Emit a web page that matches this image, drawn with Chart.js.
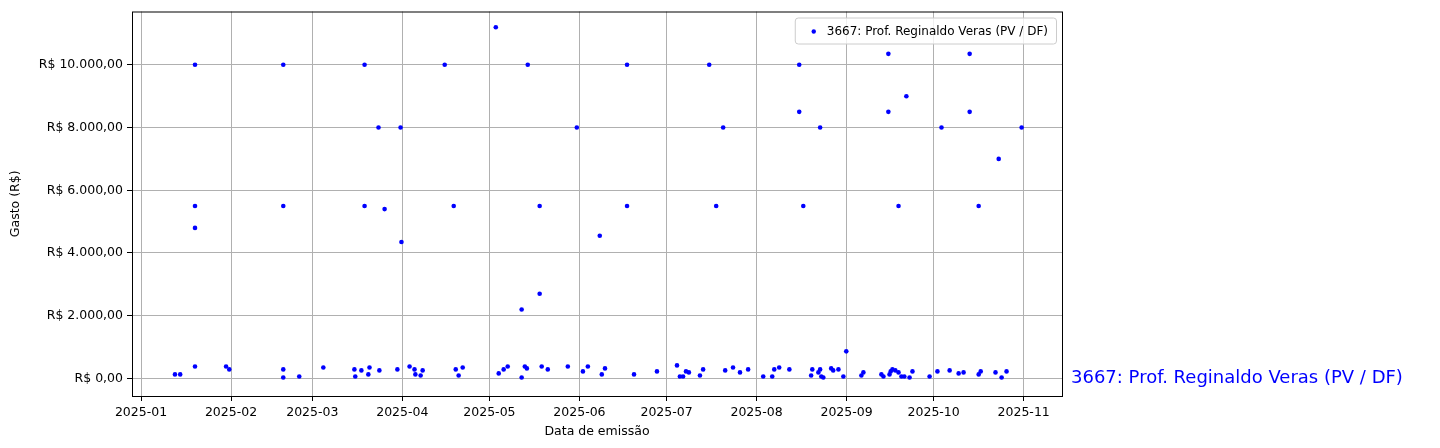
<!DOCTYPE html>
<html><head><meta charset="utf-8">
<script src="https://cdn.jsdelivr.net/npm/chart.js@4"></script>
<style>body{margin:0;background:#fff}#w{width:1440px;height:448px}</style></head>
<body><div id="w"><canvas id="c"></canvas></div>
<script>
// days since 2025-01-01
const dayOffsets = [11.7,13.5,18.6,29.3,30.4,49,49,54.5,62.8,
 73.5,73.8,75.9,78.3,78.7,82.1,88.3,
 92.5,94.2,94.5,96.3,97,108.4,109.4,110.8,
 123.2,124.9,126.3,131.1,132.2,132.9,138,140.1,147,152.2,153.9,
 158.7,159.8,169.8,177.7,
 184.6,185.6,186.7,187.7,188.7,192.5,193.6,
 201.2,203.9,206.3,209.1,214.3,217.4,218.1,219.8,223.3,
 230.8,231.2,233.3,233.9,234.3,235,237.7,238.4,240.2,241.9,242.9,248.1,248.8,
 255,255.7,257.8,258.2,258.8,259.8,260.9,261.9,262.9,264.7,265.7,
 271.6,274.3,278.5,281.6,283.3,288.5,289.2,294.3,296.4,298.1,
 18.6,18.6,18.6,49,49,77,77,81.8,83.9,89.4,89.7,104.6,107.7,122.2,131.1,133.2,137.3,137.3,150.1,158,167.4,167.4,195.7,198.1,200.5,226.7,226.7,228.1,233.9,257.4,257.4,260.9,263.6,275.7,285.4,285.4,288.5,295.4,303.3];
const gastos = [128,128,383,383,288,288,32,64,351,
 288,64,256,128,351,256,288,
 383,288,128,96,256,288,96,351,
 160,288,383,32,383,320,383,288,383,224,383,
 128,320,128,224,
 415,64,64,224,192,96,288,
 256,351,192,288,64,64,288,351,288,
 96,288,192,288,64,32,320,256,288,64,863,96,192,
 128,64,128,224,288,256,192,64,64,32,224,
 64,224,256,160,192,128,224,192,32,224,
 10000,5500,4800,10000,5500,10000,5500,8000,5400,8000,4350,10000,5500,11200,2200,10000,5500,2700,8000,4550,10000,5500,10000,5500,8000,10000,8500,5500,8000,10350,8500,5500,9000,8000,10350,8500,5500,7000,8000];
const monthStarts = [0,31,59,90,120,151,181,212,243,273,304];
const monthLabels = ["2025-01","2025-02","2025-03","2025-04","2025-05","2025-06","2025-07","2025-08","2025-09","2025-10","2025-11"];
const yTicks = [0,2000,4000,6000,8000,10000];
const seriesName = "3667: Prof. Reginaldo Veras (PV / DF)";

const pts = dayOffsets.map((d,i)=>({x:d,y:gastos[i]}));
const fmt = v => "R$ " + v.toLocaleString("de-DE",{minimumFractionDigits:2,maximumFractionDigits:2});
const FONT = "DejaVu Sans";
const deco = {
  id:'deco',
  afterDraw(ch){
    const {ctx, chartArea:a, scales:{y}} = ch;
    ctx.save();
    ctx.strokeStyle='#000'; ctx.lineWidth=1;
    ctx.strokeRect(a.left+0.5,a.top+0.5,a.right-a.left,a.bottom-a.top);
    ctx.font = `12px ${FONT}`;
    const w = ctx.measureText(seriesName).width + 40, h = 26;
    const lx = a.right - w - 6, ly = a.top + 6;
    ctx.fillStyle='rgba(255,255,255,0.8)'; ctx.strokeStyle='#ccc';
    ctx.beginPath(); ctx.roundRect(lx+0.5,ly+0.5,w,h,3); ctx.fill(); ctx.stroke();
    ctx.fillStyle='blue'; ctx.beginPath(); ctx.arc(lx+19,ly+h/2+1,2.2,0,Math.PI*2); ctx.fill();
    ctx.fillStyle='#000'; ctx.textBaseline='middle'; ctx.fillText(seriesName,lx+32,ly+h/2+1);
    ctx.font = `18px ${FONT}`; ctx.fillStyle='blue'; ctx.textBaseline='middle';
    ctx.fillText(seriesName, a.right+9, y.getPixelForValue(0));
    ctx.restore();
  }
};
new Chart(document.getElementById('c'),{
  type:'scatter',
  data:{datasets:[{label:seriesName,data:pts,backgroundColor:'blue',borderColor:'blue',pointRadius:2.3,borderWidth:0}]},
  options:{
    responsive:true,maintainAspectRatio:false,animation:false,
    layout:{padding:{left:4,right:378,top:8,bottom:9}},
    plugins:{legend:{display:false},tooltip:{enabled:false}},
    scales:{
      x:{type:'linear',min:-3.1,max:317.2,
        afterBuildTicks:s=>{s.ticks=monthStarts.map(v=>({value:v}));},
        afterFit:s=>{s.height=43;},
        ticks:{callback:v=>monthLabels[monthStarts.indexOf(v)],maxRotation:0,color:'#000',font:{family:FONT,size:12.5},padding:4},
        grid:{color:'#b0b0b0',tickLength:5,tickColor:'#000'},border:{display:false},
        title:{display:true,text:'Data de emissão',color:'#000',font:{family:FONT,size:12.5},padding:{top:0,bottom:0}}},
      y:{min:-560,max:11700,
        afterBuildTicks:s=>{s.ticks=yTicks.map(v=>({value:v}));},
        afterFit:s=>{s.width=128;},
        ticks:{callback:v=>fmt(v),color:'#000',font:{family:FONT,size:12.5},padding:4},
        grid:{color:'#b0b0b0',tickLength:5,tickColor:'#000'},border:{display:false},
        title:{display:true,text:'Gasto (R$)',color:'#000',font:{family:FONT,size:12.5},padding:{bottom:0}}}
    }
  },
  plugins:[deco]
});
</script></body></html>
